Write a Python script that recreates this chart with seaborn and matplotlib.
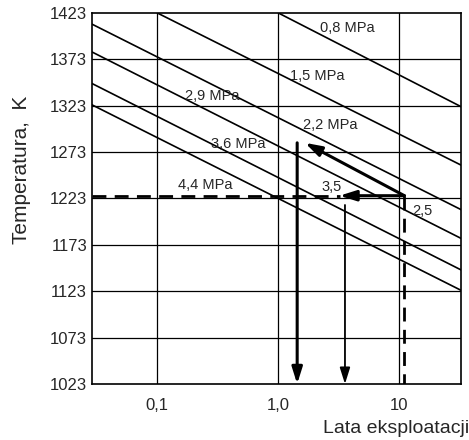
import numpy as np
import pandas as pd
import matplotlib
matplotlib.use("Agg")
import matplotlib.pyplot as plt
import seaborn as sns

# Creep-life lines for several stress levels (years of service vs temperature)
stress_labels = ["0,8 MPa", "1,5 MPa", "2,2 MPa", "2,9 MPa", "3,6 MPa", "4,4 MPa"]
line_years_start = [1.0, 0.1, 0.0288, 0.0288, 0.0288, 0.0288]
line_temp_start = [1423, 1423, 1411, 1381, 1347, 1324]
line_years_end = [32.3, 32.3, 32.3, 32.3, 32.3, 32.3]
line_temp_end = [1322, 1259, 1211, 1180, 1146, 1124]

# Axis ticks
temp_ticks = [1023, 1073, 1123, 1173, 1223, 1273, 1323, 1373, 1423]
year_ticks = [0.1, 1.0, 10]
year_tick_labels = ["0,1", "1,0", "10"]

# Worked example: operating point and derived service lives
work_temp = 1226          # operating temperature, K
work_years = 11.0         # reference life, years
shift_years = 3.2         # life after horizontal shift
shift_label = "3,5"
life_short = 1.43         # life read from the raised-temperature path
raised_temp = 1283        # temperature at the end of the diagonal path
diag_end_years = 1.66
life_mid = 3.55           # life from the second vertical read-out
life_mid_temp = 1216
ref_label = "2,5"

rows = []
for lab, x0, t0, x1, t1 in zip(stress_labels, line_years_start, line_temp_start,
                               line_years_end, line_temp_end):
    rows.append({"stress": lab, "years": x0, "temp": t0})
    rows.append({"stress": lab, "years": x1, "temp": t1})
df = pd.DataFrame(rows)

sns.set_style("white")
plt.rcParams["font.family"] = ["Liberation Sans", "DejaVu Sans"]

fig = plt.figure(figsize=(4.69, 4.40), dpi=100)
ax = fig.add_axes([0.196, 0.1273, 0.787, 0.8432])

ax.set_xscale("log")
ax.set_xlim(0.0288, 32.3)
ax.set_ylim(1023, 1423)

# grid
for t in temp_ticks[1:-1]:
    ax.axhline(t, color="black", lw=0.9, zorder=1)
for x in year_ticks:
    ax.axvline(x, color="black", lw=0.9, zorder=1)

sns.lineplot(data=df, x="years", y="temp", hue="stress", units="stress",
             estimator=None, palette=["black"] * len(stress_labels),
             legend=False, lw=1.2, ax=ax, zorder=3)

# stress labels
label_pos = [(3.69, 1407), (2.09, 1355), (2.67, 1302), (0.283, 1333),
             (0.467, 1282), (0.248, 1238)]
for lab, (lx, ly) in zip(stress_labels, label_pos):
    ax.text(lx, ly, lab, fontsize=10.5, ha="center", va="center", zorder=4)

# dashed construction lines
ax.plot([ax.get_xlim()[0], shift_years], [work_temp, work_temp],
        color="black", lw=2, ls=(0, (5, 3)), zorder=4)
ax.plot([work_years, work_years], [work_temp, 1023],
        color="black", lw=2, ls=(0, (5, 3)), zorder=4)

arrow_thick = dict(arrowstyle="-|>,head_length=0.7,head_width=0.22",
                   color="black", lw=2.2, shrinkA=0, shrinkB=0, mutation_scale=14)
arrow_thin = dict(arrowstyle="-|>,head_length=0.7,head_width=0.22",
                  color="black", lw=1.3, shrinkA=0, shrinkB=0, mutation_scale=14)

ax.annotate("", xy=(shift_years, work_temp), xytext=(work_years, work_temp),
            arrowprops=arrow_thick, zorder=5)
ax.annotate("", xy=(diag_end_years, raised_temp), xytext=(work_years, work_temp),
            arrowprops=arrow_thick, zorder=5)
ax.annotate("", xy=(life_short, 1023), xytext=(life_short, raised_temp),
            arrowprops=arrow_thick, zorder=5)
ax.annotate("", xy=(life_mid, 1023), xytext=(life_mid, life_mid_temp),
            arrowprops=arrow_thin, zorder=5)

ax.text(2.77, 1235.5, shift_label, fontsize=10.5, ha="center", va="center", zorder=6)
ax.text(15.6, 1209.5, ref_label, fontsize=10.5, ha="center", va="center", zorder=6)

ax.set_yticks(temp_ticks)
ax.set_yticklabels([str(t) for t in temp_ticks])
ax.set_xticks(year_ticks)
ax.set_xticklabels(year_tick_labels)
ax.xaxis.set_minor_locator(matplotlib.ticker.NullLocator())
ax.tick_params(axis="y", length=0, pad=3.5, labelsize=12)
ax.tick_params(axis="x", length=0, pad=10, labelsize=12)

for s in ax.spines.values():
    s.set_color("black")
    s.set_linewidth(1.2)

ax.set_xlabel("Lata eksploatacji", fontsize=14, ha="right", va="top")
ax.xaxis.set_label_coords(1.022, -0.098)
ax.set_ylabel("Temperatura,  K", fontsize=15)
ax.yaxis.set_label_coords(-0.165, 0.577)

fig.savefig("out.png", dpi=100)
